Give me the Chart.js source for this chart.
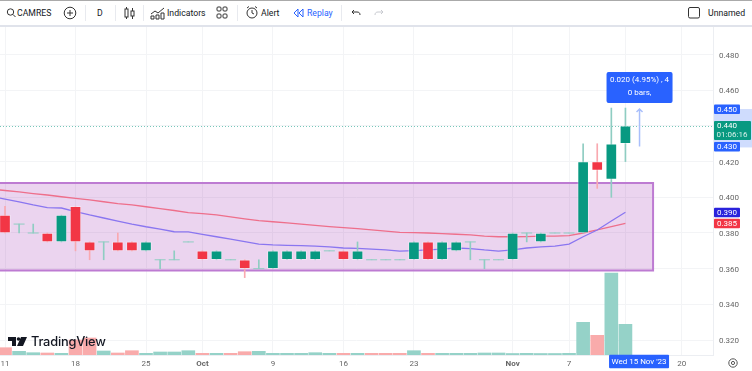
<!DOCTYPE html>
<html>
<head>
<meta charset="utf-8">
<title>CAMRES</title>
<script src="https://cdn.jsdelivr.net/npm/chart.js@4"></script>
<style>
  html, body { margin: 0; padding: 0; background: #fff; overflow: hidden; }
  #wrap { position: relative; width: 752px; height: 371px; font-family: Roboto, sans-serif; color: #131722; filter: blur(0.35px); }
  canvas { position: absolute; left: 0; top: 0; }
  #bar { position: absolute; left: 0; top: 0; width: 752px; height: 24px; border-top: 1px solid #aaa; border-bottom: 2px solid #e0e3eb; box-sizing: content-box; background: #fff; }
  #bar span { position: absolute; top: 6px; font-size: 8.7px; line-height: 12px; white-space: nowrap; }
  #bar i { position: absolute; top: 4px; width: 1px; height: 16px; background: #e8eaef; }
  #bar svg { position: absolute; top: 4px; fill: none; stroke: #333; stroke-width: 1; }
  #logo { position: absolute; left: 8px; top: 334px; height: 16px; }
  #logo span { position: absolute; left: 23px; top: 0; font: 500 12.8px/16px Inter, sans-serif; color: #131722; letter-spacing: -0.2px; }
</style>
</head>
<body>
<div id="wrap">
  <canvas id="chart" width="752" height="371"></canvas>
  <div id="bar">
    <svg style="left:6px" width="10" height="16"><circle cx="4.5" cy="7" r="3.2"/><path d="M7 9.5l2.5 2.5"/></svg>
    <span style="left:17px">CAMRES</span>
    <svg style="left:63px" width="14" height="16"><circle cx="7" cy="8" r="5.8"/><path d="M7 5v6M4 8h6"/></svg>
    <i style="left:85px"></i>
    <span style="left:97px">D</span>
    <i style="left:115px"></i>
    <svg style="left:124px" width="11" height="16"><rect x="1" y="4" width="3" height="8"/><rect x="7" y="6" width="3" height="5"/><path d="M2.5 2v2M2.5 12v2M8.5 3v3M8.5 11v3"/></svg>
    <i style="left:143px"></i>
    <svg style="left:150px" width="16" height="16"><path d="M1 9l4-3 3 2 6-5M1 14v-3h3v3zM6 14v-4h3v4zM11 14v-6h3v6z"/></svg>
    <span style="left:167px">Indicators</span>
    <svg style="left:216px" width="12" height="16"><rect x="1" y="2" width="4" height="4" rx="1"/><rect x="7" y="2" width="4" height="4" rx="1"/><rect x="1" y="9" width="4" height="4" rx="1"/><rect x="7" y="9" width="4" height="4" rx="1"/></svg>
    <i style="left:237px"></i>
    <svg style="left:245px" width="14" height="16"><circle cx="7" cy="8" r="5"/><path d="M7 5v3l2 1M2 3l2-1.5M12 3l-2-1.5"/></svg>
    <span style="left:261px">Alert</span>
    <svg style="left:293px;stroke:#2962ff" width="11" height="16"><path d="M5 4l-4 4 4 4zM10 4l-4 4 4 4z"/></svg>
    <span style="left:307px;color:#2962ff">Replay</span>
    <i style="left:341px"></i>
    <svg style="left:351px" width="10" height="16"><path d="M3 5L1 7l2 2M1 7h5c2 0 3 1 3 3"/></svg>
    <svg style="left:374px;stroke:#c8cad0" width="10" height="16"><path d="M7 5l2 2-2 2M9 7H4c-2 0-3 1-3 3"/></svg>
    <svg style="left:687px" width="14" height="16"><rect x="1.5" y="2.5" width="11" height="10.5" rx="1.5"/></svg>
    <span style="left:708px">Unnamed</span>
  </div>
  <div id="logo">
    <svg width="20" height="16" viewBox="0 0 20 16"><path fill="#131722" d="M0 3h8v9H4V7H0zM9 12l4-9h6l-4 9z"/><circle cx="10.5" cy="5" r="1.8" fill="#131722"/></svg>
    <span>TradingView</span>
  </div>
</div>
<script>
const opens = [0.39, 0.385, 0.38, 0.38, 0.375, 0.395, 0.375, 0.375, 0.375, 0.375, 0.37, 0.365, 0.365, 0.375, 0.37, 0.365, 0.365, 0.365, 0.36, 0.36, 0.365, 0.365, 0.365, 0.37, 0.37, 0.365, 0.365, 0.365, 0.365, 0.365, 0.375, 0.365, 0.37, 0.375, 0.365, 0.365, 0.365, 0.38, 0.375, 0.38, 0.38, 0.38, 0.42, 0.41, 0.43];
const highs = [0.395, 0.385, 0.385, 0.38, 0.39, 0.395, 0.375, 0.375, 0.38, 0.375, 0.375, 0.365, 0.37, 0.375, 0.37, 0.37, 0.365, 0.365, 0.365, 0.37, 0.37, 0.37, 0.37, 0.37, 0.37, 0.375, 0.365, 0.365, 0.365, 0.375, 0.375, 0.375, 0.375, 0.375, 0.365, 0.365, 0.38, 0.38, 0.38, 0.38, 0.38, 0.43, 0.43, 0.45, 0.45];
const lows = [0.38, 0.38, 0.38, 0.375, 0.375, 0.37, 0.365, 0.365, 0.37, 0.37, 0.37, 0.36, 0.365, 0.375, 0.365, 0.365, 0.365, 0.355, 0.36, 0.36, 0.365, 0.365, 0.365, 0.37, 0.365, 0.365, 0.365, 0.365, 0.365, 0.365, 0.365, 0.365, 0.37, 0.365, 0.36, 0.365, 0.365, 0.375, 0.375, 0.38, 0.38, 0.38, 0.405, 0.40, 0.42];
const closes = [0.38, 0.385, 0.38, 0.375, 0.39, 0.375, 0.37, 0.375, 0.37, 0.37, 0.375, 0.365, 0.365, 0.375, 0.365, 0.37, 0.365, 0.36, 0.36, 0.37, 0.37, 0.37, 0.37, 0.37, 0.365, 0.37, 0.365, 0.365, 0.365, 0.375, 0.365, 0.375, 0.375, 0.375, 0.365, 0.365, 0.38, 0.38, 0.38, 0.38, 0.38, 0.42, 0.415, 0.43, 0.44];
const volumes = [7.3, 3.7, 2.3, 2, 1.7, 15, 17, 4, 2, 4.3, 1.7, 3, 3, 4.3, 1.7, 1.7, 1.7, 3.3, 3.7, 1.7, 1.7, 1.7, 2.3, 1.7, 1.7, 1.7, 1.7, 1.7, 1.7, 4.3, 1.7, 1.7, 1.7, 1.7, 2, 2, 1.5, 1.7, 1.5, 1.5, 1.7, 32.7, 19.7, 82, 30.7];
const volumeUp = [0, 1, 1, 0, 1, 0, 0, 1, 0, 0, 1, 1, 1, 1, 0, 1, 0, 0, 1, 1, 1, 1, 1, 1, 0, 1, 0, 0, 0, 1, 0, 1, 1, 1, 1, 1, 1, 1, 1, 1, 1, 1, 0, 1, 1];
const fastLine = [0.399, 0.3974, 0.3957, 0.3942, 0.394, 0.392, 0.3901, 0.3884, 0.3867, 0.385, 0.3835, 0.3822, 0.3807, 0.3806, 0.3792, 0.3779, 0.3766, 0.3752, 0.3738, 0.3733, 0.3731, 0.3729, 0.3727, 0.3722, 0.3716, 0.3714, 0.371, 0.3705, 0.3699, 0.3701, 0.3705, 0.371, 0.3716, 0.3713, 0.3705, 0.3699, 0.3705, 0.3716, 0.3722, 0.3727, 0.3738, 0.3779, 0.3817, 0.3867, 0.3916];
const slowLine = [0.4038, 0.403, 0.4021, 0.4013, 0.4003, 0.3994, 0.3985, 0.3975, 0.3965, 0.3957, 0.3947, 0.3937, 0.3926, 0.3914, 0.3908, 0.3901, 0.389, 0.3879, 0.3869, 0.3863, 0.3857, 0.385, 0.3843, 0.3836, 0.383, 0.3824, 0.3818, 0.3811, 0.3804, 0.3802, 0.38, 0.3797, 0.3793, 0.3789, 0.3783, 0.3779, 0.3779, 0.378, 0.3782, 0.3783, 0.3785, 0.38, 0.3817, 0.3836, 0.3854];
// the bar before the window, only its line values show
const fastBefore = 0.4005;
const slowBefore = 0.4046;

const dateTicks = [0, 5, 10, 14, 19, 24, 29, 36, 40, 44, 48];
const dateLabels = ['11', '18', '25', 'Oct', '9', '16', '23', 'Nov', '7', '14', '20'];
const monthLabels = ['Oct', 'Nov'];
const priceTicks = [0.32, 0.34, 0.36, 0.38, 0.40, 0.42, 0.44, 0.46, 0.48];

const zoneTop = 0.408;
const zoneBottom = 0.359;
const zoneEnd = 45.96;
const lastPrice = 0.44;
const measureHigh = 0.45;
const measureLow = 0.4285;
const measureBar = 45;

const GREEN = '#089981';
const RED = '#f23645';
const BLUE = '#2962ff';

const bars = opens.map((_, i) => i);
const solid = bars.filter(i => opens[i] !== closes[i]);
const flat = bars.filter(i => opens[i] === closes[i]);
const candleColor = i => closes[i] >= opens[i] ? GREEN : RED;
const wickColor = i => closes[i] >= opens[i] ? '#8fcdc2' : '#f9a9b0';

function box(c, x, y, w, h, color, r) {
  c.fillStyle = color;
  c.beginPath();
  c.roundRect(x, y, w, h, r || 1);
  c.fill();
}

function text(c, str, x, y, color, align) {
  c.fillStyle = color;
  c.textAlign = align || 'center';
  c.textBaseline = 'middle';
  c.fillText(str, x, y);
}

// zone goes under the candles, the rest on top of everything
const drawings = {
  id: 'drawings',
  beforeDatasetsDraw(chart) {
    const c = chart.ctx, sx = chart.scales.x, sy = chart.scales.y;
    const top = sy.getPixelForValue(zoneTop), bottom = sy.getPixelForValue(zoneBottom);
    const right = sx.getPixelForValue(zoneEnd);
    c.save();
    c.fillStyle = 'rgba(156,39,176,0.2)';
    c.fillRect(0, top, right, bottom - top);
    c.strokeStyle = '#bd7bd2';
    c.lineWidth = 2;
    c.beginPath();
    c.moveTo(0, top);
    c.lineTo(right, top);
    c.lineTo(right, bottom);
    c.lineTo(0, bottom);
    c.stroke();
    const py = Math.round(sy.getPixelForValue(lastPrice)) + 0.5;
    c.strokeStyle = 'rgba(8,153,129,0.55)';
    c.lineWidth = 1;
    c.setLineDash([1, 2]);
    c.beginPath();
    c.moveTo(0, py);
    c.lineTo(chart.chartArea.right, py);
    c.stroke();
    c.restore();
  },
  afterDraw(chart) {
    const c = chart.ctx, sx = chart.scales.x, sy = chart.scales.y;
    const ax = sx.getPixelForValue(measureBar);
    const yHigh = sy.getPixelForValue(measureHigh), yLow = sy.getPixelForValue(measureLow);
    const yFast = sy.getPixelForValue(fastLine[fastLine.length - 1]);
    const ySlow = sy.getPixelForValue(slowLine[slowLine.length - 1]);
    const yLast = sy.getPixelForValue(lastPrice);
    c.save();
    c.font = '8px Roboto, sans-serif';

    // measure arrow and its bubble
    c.strokeStyle = '#a9bffb';
    c.lineWidth = 1.5;
    c.beginPath();
    c.moveTo(ax, yLow);
    c.lineTo(ax, yHigh + 1);
    c.moveTo(ax - 3, yHigh + 4);
    c.lineTo(ax, yHigh + 1);
    c.lineTo(ax + 3, yHigh + 4);
    c.stroke();
    box(c, ax - 33, yHigh - 36, 66, 31, BLUE, 2);
    text(c, '0.020 (4.95%) , 4', ax, yHigh - 28, '#fff');
    text(c, '0 bars,', ax, yHigh - 15, '#fff');

    // price tags on the right
    c.fillStyle = '#cfdcfd';
    c.fillRect(714, yHigh + 1, 38, yLow - yHigh);
    const tag = (str, y, color) => {
      box(c, 714, y - 4.5, 26, 9.5, color);
      text(c, str, 727, y + 0.5, '#fff');
    };
    tag(measureHigh.toFixed(3), yHigh + 1, BLUE);
    tag((0.43).toFixed(3), yLow, BLUE);
    tag(fastLine[fastLine.length - 1].toFixed(2) + '0', yFast, '#2a22dc');
    tag('0.385', ySlow, RED);
    box(c, 714, yLast - 5, 37, 19, GREEN);
    text(c, lastPrice.toFixed(3), 727, yLast + 0.5, '#fff');
    text(c, '01:06:16', 732, yLast + 9, '#d8f0ea');

    // date tag over the time axis
    box(c, ax - 30.5, 354.7, 60, 13.6, BLUE);
    text(c, "Wed 15 Nov '23", ax - 0.5, 362, '#fff');

    // settings button
    c.strokeStyle = '#555';
    c.lineWidth = 1;
    c.beginPath();
    c.arc(733, 363, 4.2, 0, Math.PI * 2);
    c.stroke();
    c.beginPath();
    c.arc(733, 363, 1.6, 0, Math.PI * 2);
    c.stroke();
    c.restore();
  }
};

new Chart(document.getElementById('chart').getContext('2d'), {
  type: 'bar',
  plugins: [drawings],
  data: {
    datasets: [
      {
        label: 'Volume',
        yAxisID: 'vol',
        order: 5,
        barThickness: 13,
        grouped: false,
        data: bars.map(i => ({ x: i, y: volumes[i] })),
        backgroundColor: bars.map(i => volumeUp[i] ? '#95d2c8' : '#f9abab')
      },
      {
        type: 'line',
        label: 'Slow MA',
        order: 4,
        data: [{ x: -1, y: slowBefore }].concat(bars.map(i => ({ x: i, y: slowLine[i] }))),
        borderColor: '#ee6f8b',
        borderWidth: 1.3,
        pointRadius: 0
      },
      {
        type: 'line',
        label: 'Fast MA',
        order: 3,
        data: [{ x: -1, y: fastBefore }].concat(bars.map(i => ({ x: i, y: fastLine[i] }))),
        borderColor: '#8a76f0',
        borderWidth: 1.3,
        pointRadius: 0
      },
      {
        label: 'Wicks',
        order: 2,
        barThickness: 1,
        grouped: false,
        data: bars.map(i => ({ x: i, y: [lows[i], highs[i]] })),
        backgroundColor: bars.map(wickColor)
      },
      {
        type: 'line',
        label: 'Flat candles',
        order: 2,
        showLine: false,
        data: flat.map(i => ({ x: i, y: closes[i] })),
        pointStyle: 'line',
        pointRadius: 5.5,
        pointBorderWidth: 1,
        pointBorderColor: '#8fcdc2'
      },
      {
        label: 'Candles',
        order: 1,
        barThickness: 11,
        grouped: false,
        data: solid.map(i => ({ x: i, y: [opens[i], closes[i]] })),
        backgroundColor: solid.map(candleColor),
        borderColor: 'rgba(255,255,255,0.35)',
        borderWidth: 1,
        borderSkipped: false
      }
    ]
  },
  options: {
    responsive: false,
    animation: false,
    // the flat candle markers would otherwise inset the plot by their radius
    layout: { autoPadding: false, padding: { top: 26 } },
    plugins: { legend: { display: false }, tooltip: { enabled: false } },
    scales: {
      x: {
        type: 'linear',
        offset: false,
        min: -0.355,
        max: 50.21,
        grid: { color: '#f3f4f6', offset: false, drawTicks: true, tickLength: 4, tickColor: 'rgba(0,0,0,0)' },
        border: { color: '#eceef2' },
        afterBuildTicks: axis => { axis.ticks = dateTicks.map(value => ({ value })); },
        afterFit: axis => { axis.height = 16; },
        ticks: {
          autoSkip: false,
          maxRotation: 0,
          padding: 0,
          color: '#666',
          font: ctx => ({
            family: 'Roboto, sans-serif',
            size: 8,
            weight: ctx.tick && monthLabels.includes(dateLabels[dateTicks.indexOf(ctx.tick.value)]) ? 'bold' : 'normal'
          }),
          callback: value => dateLabels[dateTicks.indexOf(value)]
        }
      },
      y: {
        position: 'right',
        min: 0.31165,
        max: 0.49597,
        grid: { color: '#f3f4f6', drawTicks: false },
        border: { color: '#eceef2' },
        afterBuildTicks: axis => { axis.ticks = priceTicks.map(value => ({ value })); },
        afterFit: axis => { axis.width = 39; },
        ticks: {
          padding: 6,
          labelOffset: 1,
          color: '#666',
          font: { family: 'Roboto, sans-serif', size: 8 },
          callback: value => value.toFixed(3)
        }
      },
      vol: {
        display: false,
        min: 0,
        max: 329
      }
    }
  }
});
</script>
</body>
</html>
